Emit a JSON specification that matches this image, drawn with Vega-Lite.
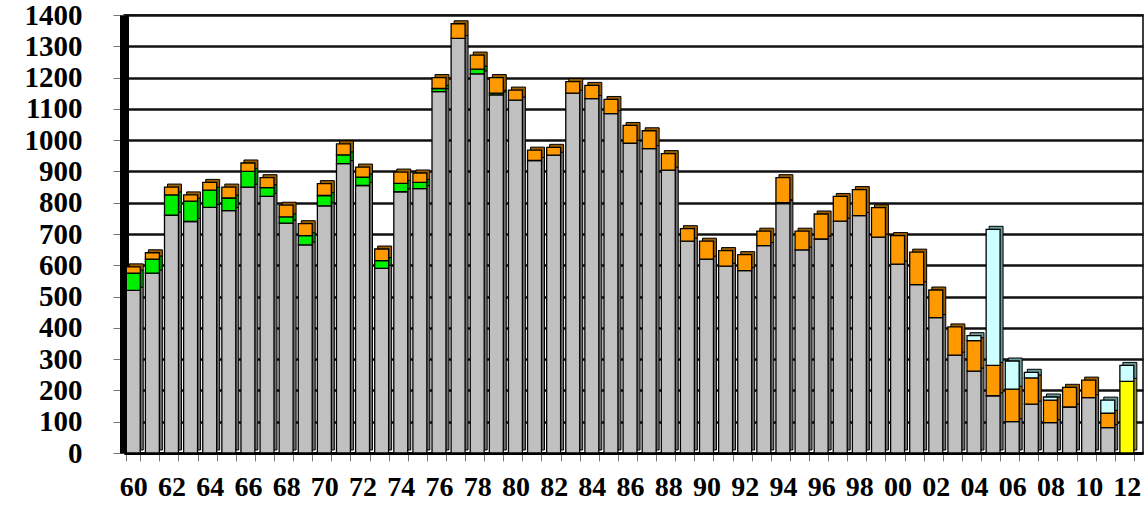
{
  "$schema": "https://vega.github.io/schema/vega-lite/v6.json",
  "width": 1019,
  "height": 438,
  "autosize": {"type": "none"},
  "padding": {"left": 124, "top": 15, "right": 3, "bottom": 52},
  "background": "white",
  "config": {"view": {"stroke": "black", "strokeWidth": 1.5}},
  "data": {"values": [
    {"year":1960,"s":1,"v":520},{"year":1960,"s":3,"v":55},{"year":1960,"s":4,"v":20},
    {"year":1961,"s":1,"v":575},{"year":1961,"s":3,"v":45},{"year":1961,"s":4,"v":20},
    {"year":1962,"s":1,"v":760},{"year":1962,"s":3,"v":65},{"year":1962,"s":4,"v":25},
    {"year":1963,"s":1,"v":740},{"year":1963,"s":3,"v":65},{"year":1963,"s":4,"v":20},
    {"year":1964,"s":1,"v":785},{"year":1964,"s":3,"v":55},{"year":1964,"s":4,"v":25},
    {"year":1965,"s":1,"v":775},{"year":1965,"s":3,"v":40},{"year":1965,"s":4,"v":35},
    {"year":1966,"s":1,"v":850},{"year":1966,"s":3,"v":50},{"year":1966,"s":4,"v":27},
    {"year":1967,"s":1,"v":820},{"year":1967,"s":3,"v":28},{"year":1967,"s":4,"v":32},
    {"year":1968,"s":1,"v":735},{"year":1968,"s":3,"v":20},{"year":1968,"s":4,"v":37},
    {"year":1969,"s":1,"v":665},{"year":1969,"s":3,"v":30},{"year":1969,"s":4,"v":38},
    {"year":1970,"s":1,"v":790},{"year":1970,"s":3,"v":33},{"year":1970,"s":4,"v":38},
    {"year":1971,"s":1,"v":925},{"year":1971,"s":3,"v":28},{"year":1971,"s":4,"v":35},
    {"year":1972,"s":1,"v":855},{"year":1972,"s":3,"v":27},{"year":1972,"s":4,"v":32},
    {"year":1973,"s":1,"v":590},{"year":1973,"s":3,"v":25},{"year":1973,"s":4,"v":37},
    {"year":1974,"s":1,"v":835},{"year":1974,"s":3,"v":27},{"year":1974,"s":4,"v":36},
    {"year":1975,"s":1,"v":845},{"year":1975,"s":3,"v":20},{"year":1975,"s":4,"v":30},
    {"year":1976,"s":1,"v":1155},{"year":1976,"s":3,"v":10},{"year":1976,"s":4,"v":35},
    {"year":1977,"s":1,"v":1325},{"year":1977,"s":4,"v":47},
    {"year":1978,"s":1,"v":1212},{"year":1978,"s":3,"v":15},{"year":1978,"s":4,"v":45},
    {"year":1979,"s":1,"v":1145},{"year":1979,"s":3,"v":5},{"year":1979,"s":4,"v":50},
    {"year":1980,"s":1,"v":1128},{"year":1980,"s":4,"v":32},
    {"year":1981,"s":1,"v":935},{"year":1981,"s":4,"v":33},
    {"year":1982,"s":1,"v":952},{"year":1982,"s":4,"v":25},
    {"year":1983,"s":1,"v":1150},{"year":1983,"s":4,"v":37},
    {"year":1984,"s":1,"v":1133},{"year":1984,"s":4,"v":42},
    {"year":1985,"s":1,"v":1085},{"year":1985,"s":4,"v":45},
    {"year":1986,"s":1,"v":990},{"year":1986,"s":4,"v":57},
    {"year":1987,"s":1,"v":973},{"year":1987,"s":4,"v":57},
    {"year":1988,"s":1,"v":904},{"year":1988,"s":4,"v":53},
    {"year":1989,"s":1,"v":677},{"year":1989,"s":4,"v":40},
    {"year":1990,"s":1,"v":620},{"year":1990,"s":4,"v":57},
    {"year":1991,"s":1,"v":597},{"year":1991,"s":4,"v":50},
    {"year":1992,"s":1,"v":583},{"year":1992,"s":4,"v":51},
    {"year":1993,"s":1,"v":663},{"year":1993,"s":4,"v":46},
    {"year":1994,"s":1,"v":797},{"year":1994,"s":3,"v":3},{"year":1994,"s":4,"v":80},
    {"year":1995,"s":1,"v":649},{"year":1995,"s":4,"v":60},
    {"year":1996,"s":1,"v":684},{"year":1996,"s":4,"v":80},
    {"year":1997,"s":1,"v":741},{"year":1997,"s":4,"v":79},
    {"year":1998,"s":1,"v":759},{"year":1998,"s":4,"v":83},
    {"year":1999,"s":1,"v":690},{"year":1999,"s":4,"v":94},
    {"year":2000,"s":1,"v":604},{"year":2000,"s":4,"v":91},
    {"year":2001,"s":1,"v":538},{"year":2001,"s":4,"v":104},
    {"year":2002,"s":1,"v":433},{"year":2002,"s":4,"v":88},
    {"year":2003,"s":1,"v":313},{"year":2003,"s":4,"v":90},
    {"year":2004,"s":1,"v":262},{"year":2004,"s":4,"v":97},{"year":2004,"s":5,"v":16},
    {"year":2005,"s":1,"v":183},{"year":2005,"s":4,"v":97},{"year":2005,"s":5,"v":435},
    {"year":2006,"s":1,"v":100},{"year":2006,"s":4,"v":104},{"year":2006,"s":5,"v":90},
    {"year":2007,"s":1,"v":156},{"year":2007,"s":4,"v":84},{"year":2007,"s":5,"v":18},
    {"year":2008,"s":1,"v":97},{"year":2008,"s":4,"v":72},{"year":2008,"s":5,"v":10},
    {"year":2009,"s":1,"v":147},{"year":2009,"s":4,"v":63},
    {"year":2010,"s":1,"v":177},{"year":2010,"s":4,"v":56},
    {"year":2011,"s":1,"v":81},{"year":2011,"s":4,"v":46},{"year":2011,"s":5,"v":42},
    {"year":2012,"s":2,"v":229},{"year":2012,"s":5,"v":51}
  ]},
  "encoding": {
    "x": {
      "field": "year", "type": "ordinal",
      "scale": {"paddingInner": 0.27, "paddingOuter": 0.3, "align": 0.2},
      "axis": {
        "title": null, "labelAngle": 0, "grid": false,
        "tickBand": "extent", "tickColor": "#777", "tickSize": 8, "tickWidth": 1,
        "domainColor": "black", "domainWidth": 3,
        "labelExpr": "datum.value % 2 == 0 ? substring(toString(datum.value), 2) : ''",
        "labelFont": "Liberation Serif", "labelFontWeight": "bold", "labelFontSize": 28,
        "labelColor": "black", "labelPadding": 12
      }
    },
    "y": {
      "field": "v", "type": "quantitative", "stack": "zero",
      "scale": {"domain": [0, 1400], "nice": false},
      "axis": {
        "title": null, "format": "d", "labelOverlap": false,
        "values": [0,100,200,300,400,500,600,700,800,900,1000,1100,1200,1300,1400],
        "grid": true, "gridColor": "#111", "gridWidth": 2.5,
        "domainColor": "black", "domainWidth": 9,
        "tickColor": "#777", "tickSize": 11, "tickWidth": 1,
        "labelFont": "Liberation Serif", "labelFontWeight": "bold", "labelFontSize": 29,
        "labelColor": "black", "labelPadding": 31
      }
    },
    "order": {"field": "s", "type": "quantitative"}
  },
  "layer": [
    {
      "mark": {"type": "bar", "xOffset": 3, "yOffset": -3, "stroke": "black", "strokeWidth": 1},
      "encoding": {
        "color": {"field": "s", "type": "nominal", "legend": null,
          "scale": {"domain": [1,2,3,4,5], "range": ["#6e6e6e", "#9a9a00", "#008a00", "#9a5c00", "#6a9a9a"]}}
      }
    },
    {
      "mark": {"type": "bar", "stroke": "black", "strokeWidth": 1.3},
      "encoding": {
        "color": {"field": "s", "type": "nominal", "legend": null,
          "scale": {"domain": [1,2,3,4,5], "range": ["#c0c0c0", "#ffff00", "#00ee00", "#ff9900", "#ccffff"]}}
      }
    }
  ],
  "resolve": {"scale": {"color": "independent"}}
}
